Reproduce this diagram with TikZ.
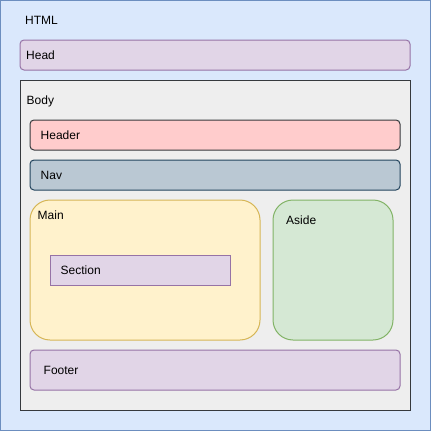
\documentclass[tikz,border=0pt]{standalone}
\usepackage{fontspec}
\setmainfont{Liberation Sans}
\usetikzlibrary{positioning, calc}
\definecolor{htmlfill}{HTML}{DAE8FC}
\definecolor{htmldraw}{HTML}{6C8EBF}
\definecolor{purplefill}{HTML}{E1D5E7}
\definecolor{purpledraw}{HTML}{9673A6}
\definecolor{bodyfill}{HTML}{EEEEEE}
\definecolor{darkdraw}{HTML}{36393D}
\definecolor{headerfill}{HTML}{FFCCCC}
\definecolor{navfill}{HTML}{BAC8D3}
\definecolor{navdraw}{HTML}{23445D}
\definecolor{mainfill}{HTML}{FFF2CC}
\definecolor{maindraw}{HTML}{D6B656}
\definecolor{asidefill}{HTML}{D5E8D4}
\definecolor{asidedraw}{HTML}{82B366}
\tikzset{
  block/.style={draw, line width=1pt, inner sep=0pt, outer sep=0pt, anchor=north west},
  purple_block/.style={block, fill=purplefill, draw=purpledraw},
  small_round/.style={rounded corners=4pt},
  big_round/.style={rounded corners=20pt},
  tag/.style={anchor=base west, inner sep=0pt, font=\fontsize{12pt}{14pt}\selectfont}
}

\begin{document}
\begin{tikzpicture}[x=1pt, y=-1pt]
    \useasboundingbox (0,0) rectangle (431,431);
    % outer page
    \node(html) [block, fill=htmlfill, draw=htmldraw, minimum width=430pt, minimum height=430pt] at (0.5,0.5) {};
    \node(head) [purple_block, small_round, minimum width=390pt, minimum height=30pt] at (20,40) {};
    \node(body) [block, fill=bodyfill, draw=darkdraw, minimum width=390pt, minimum height=330pt] at (20,80) {};

    % inside body
    \node(header) [block, small_round, fill=headerfill, draw=darkdraw, minimum width=370pt, minimum height=30pt] at (30,120) {};
    \node(nav) [block, small_round, fill=navfill, draw=navdraw, minimum width=370pt, minimum height=30pt] at (30,160) {};
    \node(main) [block, big_round, fill=mainfill, draw=maindraw, minimum width=230pt, minimum height=140pt] at (30,200) {};
    \node(section) [purple_block, minimum width=180pt, minimum height=30pt] at (50,255) {};
    \node(aside) [block, big_round, fill=asidefill, draw=asidedraw, minimum width=120pt, minimum height=140pt] at (273,200) {};
    \node(footer) [purple_block, small_round, minimum width=370pt, minimum height=40pt] at (30,350) {};

    % labels
    \node(html_text) [tag] at ($(html.north west)+(24.5,23.5)$) {HTML};
    \node(head_text) [tag] at ($(head.west)+(6,4.3)$) {Head};
    \node(body_text) [tag] at ($(body.north west)+(6.5,24)$) {Body};
    \node(header_text) [tag] at ($(header.west)+(10.5,4.3)$) {Header};
    \node(nav_text) [tag] at ($(nav.west)+(10.5,4.3)$) {Nav};
    \node(main_text) [tag] at ($(main.north west)+(7.5,19)$) {Main};
    \node(section_text) [tag] at ($(section.west)+(10.5,4.3)$) {Section};
    \node(aside_text) [tag] at ($(aside.north west)+(13,24)$) {Aside};
    \node(footer_text) [tag] at ($(footer.west)+(13.5,4.3)$) {Footer};
\end{tikzpicture}
\end{document}
